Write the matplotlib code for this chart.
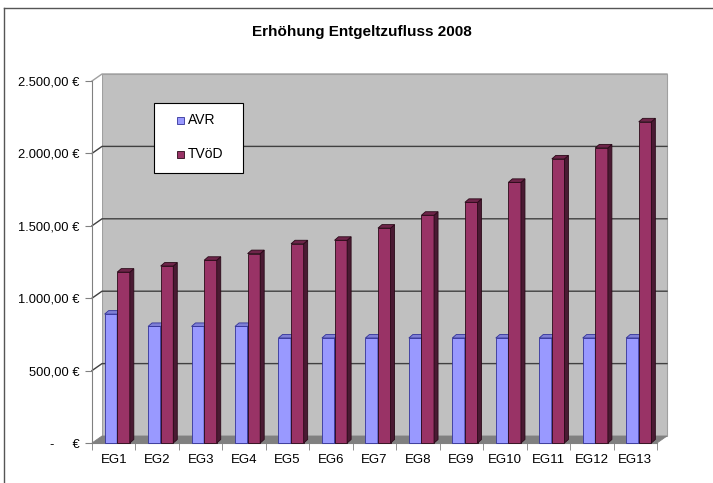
import matplotlib
matplotlib.use("Agg")
import matplotlib.pyplot as plt
from matplotlib.patches import Polygon, Rectangle
from matplotlib.lines import Line2D

plt.rcParams["font.family"] = ["Liberation Sans", "DejaVu Sans"]

# data
categories = ["EG1", "EG2", "EG3", "EG4", "EG5", "EG6", "EG7",
              "EG8", "EG9", "EG10", "EG11", "EG12", "EG13"]
avr = [890, 805, 805, 805, 725, 725, 725, 725, 725, 725, 725, 725, 725]
tvoed = [1180, 1222, 1262, 1308, 1376, 1400, 1484, 1573, 1662, 1800, 1962, 2038, 2218]
series_names = ["AVR", "TVöD"]
y_ticks = [0, 500, 1000, 1500, 2000, 2500]
y_labels = ["-     €", "500,00 €", "1.000,00 €", "1.500,00 €", "2.000,00 €", "2.500,00 €"]
title = "Erhöhung Entgeltzufluss 2008"

AVR_C = ("#9999FF", "#4D4D99", "#7F7FD6", "#333399")   # front, side, top, edge
TV_C = ("#993366", "#4A1A33", "#6E2449", "#2A0A18")

# pixel layout of the plot (front plane)
W, H = 713, 483
X0, X1, Y0, Y1 = 92, 657, 443, 81
YMAX = 2500
n = len(categories)
PX_X = (X1 - X0) / n
PX_Y = (Y0 - Y1) / YMAX


def dx(px):
    return px / PX_X


def dy(px):
    return px / PX_Y


WX, WY = dx(10), dy(7)      # wall depth
BX, BY = dx(4), dy(3.5)     # bar depth
BW = 0.29                   # bar width (in categories)


def bar3d(ax, x, h, colors, z):
    front, side, top, edge = colors
    kw = dict(ec=edge, lw=0.6, zorder=z, clip_on=False)
    ax.add_patch(Rectangle((x, 0), BW, h, fc=front, **kw))
    ax.add_patch(Polygon([(x + BW, 0), (x + BW + BX, BY), (x + BW + BX, h + BY),
                          (x + BW, h)], fc=side, **kw))
    ax.add_patch(Polygon([(x, h), (x + BX, h + BY), (x + BW + BX, h + BY),
                          (x + BW, h)], fc=top, **kw))


fig = plt.figure(figsize=(W / 100, H / 100), dpi=100)
ax = fig.add_axes([X0 / W, 1 - Y0 / H, (X1 - X0) / W, (Y0 - Y1) / H])
ax.set_xlim(0, n)
ax.set_ylim(0, YMAX)
ax.set_facecolor("none")

# walls and floor
ax.add_patch(Rectangle((WX, WY), n, YMAX, fc="#C0C0C0", ec="#A0A0A0",
                       lw=0.8, zorder=0, clip_on=False))
ax.add_patch(Polygon([(0, 0), (WX, WY), (WX, YMAX + WY), (0, YMAX)],
                     fc="white", ec="none", zorder=0, clip_on=False))
ax.add_patch(Polygon([(0, 0), (n, 0), (n + WX, WY), (WX, WY)],
                     fc="#808080", ec="#808080", lw=0.6, zorder=1, clip_on=False))
for v in y_ticks[1:]:
    col = "#A0A0A0" if v == YMAX else "#404040"
    ax.plot([0, WX, n + WX], [v, v + WY, v + WY], color=col, lw=1.0,
            zorder=0.5, clip_on=False)

for i in range(n):
    bar3d(ax, i + 0.29, avr[i], AVR_C, 3)
    bar3d(ax, i + 0.29 + BW, tvoed[i], TV_C, 4)

# axes
ax.set_yticks(y_ticks, y_labels)
ax.tick_params(axis="y", length=5, pad=4, color="#808080", labelsize=9.3)
ax.set_xticks([i + 0.5 for i in range(n)], categories)
ax.set_xticks(range(n + 1), minor=True)
ax.tick_params(axis="x", which="major", length=0, pad=8, labelsize=9.5)
ax.tick_params(axis="x", which="minor", length=5, color="#808080")
for side in ("top", "right"):
    ax.spines[side].set_visible(False)
for side in ("left", "bottom"):
    ax.spines[side].set_color("#808080")
    ax.spines[side].set_linewidth(0.8)

fig.text(362 / W, 1 - 32 / H, title, ha="center", va="center",
         fontsize=11, fontweight="bold")

# legend box (Excel style)
T = fig.transFigure
fig.add_artist(Rectangle((154 / W, 1 - 173 / H), 89 / W, 70 / H, transform=T,
                         fc="white", ec="black", lw=0.8))
for name, cols, yy in zip(series_names, (AVR_C, TV_C), (120, 154)):
    fig.add_artist(Rectangle((177 / W, 1 - (yy + 3.5) / H), 7 / W, 7 / H,
                             transform=T, fc=cols[0], ec=cols[3], lw=0.6))
    fig.text(188 / W, 1 - yy / H, name, ha="left", va="center", fontsize=10)

# chart frame (cut off at right/bottom)
fig.add_artist(Line2D([4 / W, 1], [1 - 8 / H, 1 - 8 / H], transform=T,
                      color="#555555", lw=1))
fig.add_artist(Line2D([4 / W, 4 / W], [0, 1 - 8 / H], transform=T,
                      color="#555555", lw=1))

fig.savefig("out.png", dpi=100)
